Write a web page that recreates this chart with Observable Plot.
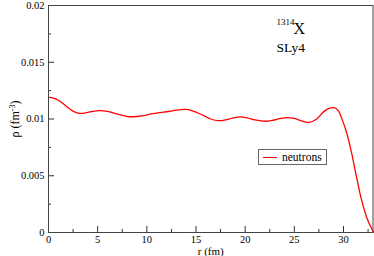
<!DOCTYPE html>
<html>
<head>
<meta charset="utf-8">
<script src="https://cdn.jsdelivr.net/npm/d3@7"></script>
<script src="https://cdn.jsdelivr.net/npm/@observablehq/plot@0.6"></script>
<style>
  html, body { margin: 0; padding: 0; background: #fff; }
  #wrap { position: relative; width: 374px; height: 256px; }
  #wrap svg, #wrap svg text { font-family: "Liberation Serif", "Times New Roman", "DejaVu Serif", serif !important; }
  #legend {
    position: absolute; left: 258px; top: 149px; width: 67px; height: 14px;
    border: 1px solid #666; background: #fff;
    font-family: "Liberation Serif", "Times New Roman", "DejaVu Serif", serif; font-size: 11.5px; line-height: 14px;
    display: flex; align-items: center; box-sizing: content-box;
  }
  #legend .sw { display: inline-block; width: 14px; height: 0; border-top: 1.5px solid #ff0000; margin: 0 5px 0 4px; }
</style>
</head>
<body>
<div id="wrap"></div>
<script>
// radius r (fm)
const radius = [0, 0.5, 1.0, 1.5, 2.0, 2.5, 3.0, 3.5, 4.0, 4.5, 5.2, 6.0, 7.0, 8.0, 8.6, 9.5, 10.5, 11.5, 12.5, 13.5, 14.0, 14.5, 15.5, 16.5, 17.3, 18.0, 18.8, 19.5, 20.2, 21.0, 22.0, 22.8, 23.6, 24.3, 25.0, 25.8, 26.5, 27.2, 28.0, 28.6, 29.05, 29.5, 29.8, 30.3, 30.8, 31.3, 31.8, 32.35, 32.85, 33.1];
// neutron density rho (fm^-3)
const neutrons = [0.01190, 0.01185, 0.01165, 0.01135, 0.01100, 0.01070, 0.01052, 0.01050, 0.01058, 0.01068, 0.01074, 0.01068, 0.01042, 0.01022, 0.01020, 0.01028, 0.01045, 0.01058, 0.01070, 0.01083, 0.01084, 0.01075, 0.01042, 0.01000, 0.00985, 0.00992, 0.01010, 0.01018, 0.01010, 0.00992, 0.00980, 0.00988, 0.01005, 0.01013, 0.01005, 0.00982, 0.00970, 0.00995, 0.01065, 0.01095, 0.01100, 0.01070, 0.01010, 0.00885, 0.00710, 0.00500, 0.00300, 0.00135, 0.00035, 0.0];

const xMajor = [0, 5, 10, 15, 20, 25, 30];
const xMinor = [2.5, 7.5, 12.5, 17.5, 22.5, 27.5, 32.5];
const yMajor = [0, 0.005, 0.01, 0.015, 0.02];
const yMinor = [0.0025, 0.0075, 0.0125, 0.0175];

const seriesName = "neutrons";
const nucleus = "X";
const massNumber = "1314";
const force = "SLy4";

const data = radius.map((r, i) => ({r, rho: neutrons[i]}));

const W = 374, H = 256, mL = 48, mR = 1.5, mT = 5, mB = 24;
const innerW = W - mL - mR, innerH = H - mT - mB;
const serif = "'Liberation Serif', 'Times New Roman', 'DejaVu Serif', serif";

const chart = Plot.plot({
  width: W, height: H,
  marginLeft: mL, marginRight: mR, marginTop: mT, marginBottom: mB,
  style: {fontFamily: serif, background: "#fff", color: "#000"},
  x: {domain: [0, 33]},
  y: {domain: [0, 0.02]},
  marks: [
    Plot.line(data, {x: "r", y: "rho", stroke: "#ff0000", strokeWidth: 1.3, curve: "catmull-rom"}),
    // inward ticks
    Plot.ruleX(xMajor, {x: d => d, insetTop: innerH - 6, stroke: "#333"}),
    Plot.ruleX(xMinor, {x: d => d, insetTop: innerH - 3, stroke: "#333"}),
    Plot.ruleY(yMajor, {y: d => d, insetRight: innerW - 6, stroke: "#333"}),
    Plot.ruleY(yMinor, {y: d => d, insetRight: innerW - 3, stroke: "#333"}),
    Plot.axisX({ticks: xMajor, tickSize: 0, tickPadding: 3, tickFormat: d => String(d), fontSize: 10.5,
      label: "r (fm)", labelAnchor: "center", labelArrow: "none", labelOffset: 22}),
    Plot.axisY({ticks: yMajor, tickSize: 0, tickPadding: 4, tickFormat: d => String(d), fontSize: 10.5,
      label: "ρ (fm-3)", labelAnchor: "center", labelArrow: "none", labelOffset: 38}),
    Plot.frame({stroke: "#444"}),
    Plot.text([massNumber], {text: d => d, frameAnchor: "top-left", dx: 228, dy: 13, fontSize: 9, textAnchor: "start", lineAnchor: "top"}),
    Plot.text([nucleus], {text: d => d, frameAnchor: "top-left", dx: 245, dy: 17, fontSize: 16, textAnchor: "start", lineAnchor: "top"}),
    Plot.text([force], {text: d => d, frameAnchor: "top-left", dx: 228, dy: 37, fontSize: 13.5, textAnchor: "start", lineAnchor: "top"})
  ]
});

// y-axis label with superscript
d3.select(chart).selectAll("g[aria-label='y-axis label'] text").each(function() {
  const t = d3.select(this);
  t.text(null).style("font-size", "12px");
  t.append("tspan").text("ρ (fm");
  t.append("tspan").attr("baseline-shift", "super").style("font-size", "8px").text("-3");
  t.append("tspan").text(")");
});
d3.select(chart).selectAll("g[aria-label='x-axis label'] text").style("font-size", "11px");

const wrap = document.getElementById("wrap");
wrap.appendChild(chart);
const lg = document.createElement("div");
lg.id = "legend";
lg.innerHTML = `<span class="sw"></span><span>${seriesName}</span>`;
wrap.appendChild(lg);
</script>
</body>
</html>
